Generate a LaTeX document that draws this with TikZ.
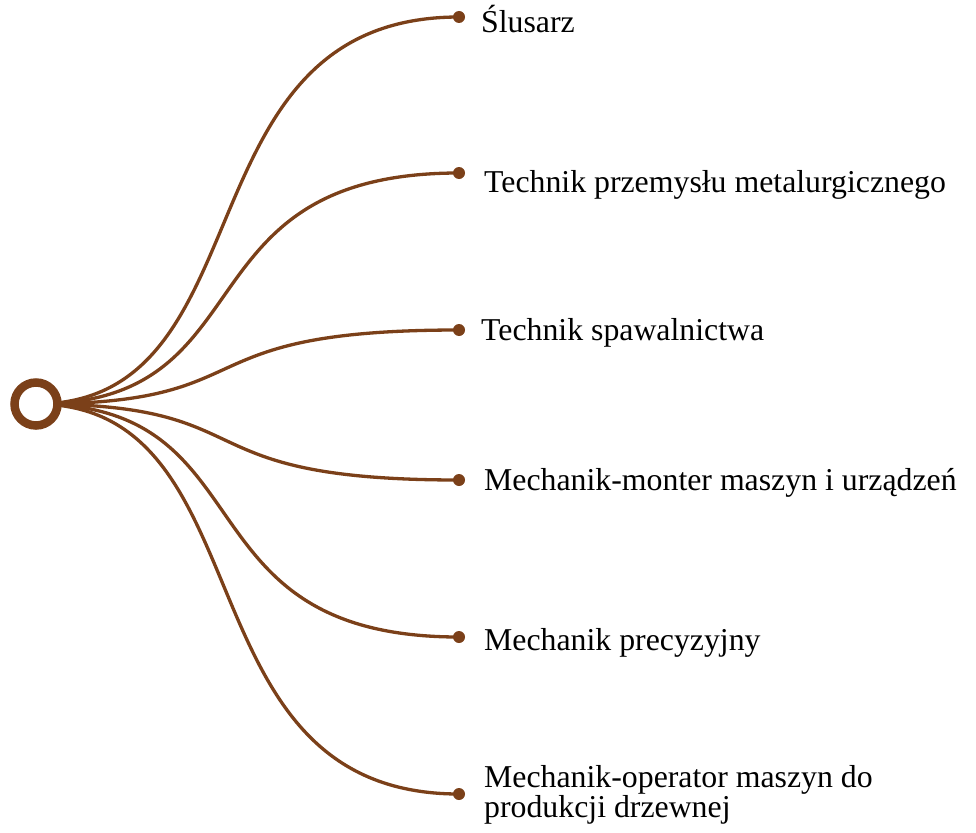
\documentclass[tikz,border=0pt]{standalone}
\usepackage{fontspec}
\usetikzlibrary{calc}
\setmainfont{Liberation Serif}
\definecolor{br}{HTML}{7B4019}
\begin{document}
\begin{tikzpicture}[x=1pt,y=-1pt,
  link/.style={draw=br,line width=3.3pt},
  leafdot/.style={circle,fill=br,inner sep=0pt,minimum size=12pt},
  lbl/.style={anchor=base west,inner sep=0pt,font=\fontsize{31.8}{28}\selectfont,align=left}]
\useasboundingbox (0,0) rectangle (976,832);
\coordinate (root) at (36,404);
\coordinate (ca) at (271,404);
\coordinate (cb) at (175,404);
\node[leafdot] (d1) at (459,17) {};
\node[leafdot] (d2) at (459,173) {};
\node[leafdot] (d3) at (459,330) {};
\node[leafdot] (d4) at (459,480) {};
\node[leafdot] (d5) at (459,637) {};
\node[leafdot] (d6) at (459,794) {};
\foreach \i in {1,...,6}{
  \path[link] (root) .. controls (ca) and (cb |- d\i) .. (d\i.center);
}
\node[circle,draw=br,line width=8.5pt,fill=white,minimum size=43pt,inner sep=0pt] (c) at (root) {};
\node[lbl] (t1) at (481,33) {Ślusarz};
\node[lbl] (t2) at (484,192) {Technik przemysłu metalurgicznego};
\node[lbl] (t3) at (481,340) {Technik spawalnictwa};
\node[lbl] (t4) at (484,490) {Mechanik-monter maszyn i urządzeń};
\node[lbl] (t5) at (484,650) {Mechanik precyzyjny};
\node[lbl] (t6) at (484,817) {Mechanik-operator maszyn do\\produkcji drzewnej};
\end{tikzpicture}
\end{document}
